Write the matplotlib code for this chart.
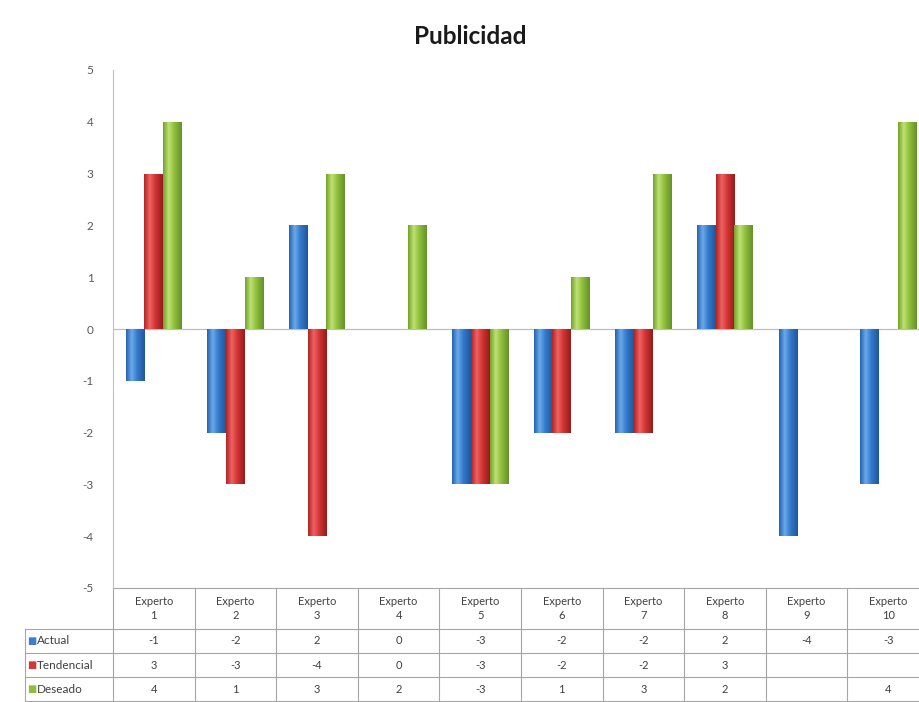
import numpy as np
import matplotlib
matplotlib.use("Agg")
import matplotlib.pyplot as plt
from matplotlib.colors import LinearSegmentedColormap

title = "Publicidad"
expertos = ["Experto\n%d" % i for i in range(1, 11)]
series_names = ["Actual", "Tendencial", "Deseado"]
actual = [-1, -2, 2, 0, -3, -2, -2, 2, -4, -3]
tendencial = [3, -3, -4, 0, -3, -2, -2, 3, None, None]
deseado = [4, 1, 3, 2, -3, 1, 3, 2, None, 4]
y_ticks = list(range(-5, 6))

base_colors = ["#3b7dd0", "#d23a3a", "#8fbe3c"]
# dark edge, highlight, mid, dark edge -> cylinder look
shades = [
    ["#2563b0", "#6aaaea", "#3479cc", "#1f569a"],
    ["#b02424", "#ee6262", "#d23434", "#961c1c"],
    ["#72a22a", "#bfe174", "#8fbe3c", "#64922a"],
]

plt.rcParams['font.family'] = ['Lato', 'DejaVu Sans']
plt.rcParams['axes.unicode_minus'] = False

W, H = 920, 702
fig = plt.figure(figsize=(W / 100, H / 100), dpi=100)
ax = fig.add_axes([113 / W, (H - 588) / H, 816 / W, 518 / H])

n = len(expertos)
x = np.arange(n)
bw = 0.228
all_series = [actual, tendencial, deseado]

grad = np.linspace(0, 1, 64).reshape(1, -1)
for k, vals in enumerate(all_series):
    v = np.array([np.nan if a is None else a for a in vals], dtype=float)
    bars = ax.bar(x + (k - 1) * bw, v, bw, color=base_colors[k], zorder=2, linewidth=0)
    cmap = LinearSegmentedColormap.from_list("c%d" % k,
                                             list(zip([0, 0.3, 0.6, 1], shades[k])))
    for b, val in zip(bars, v):
        if np.isnan(val) or val == 0:
            continue
        x0, y0 = b.get_x(), b.get_y()
        im = ax.imshow(grad, cmap=cmap, aspect='auto', zorder=3,
                       extent=[x0, x0 + b.get_width(), y0, y0 + b.get_height()])
        im.set_clip_path(b)

ax.set_xlim(-0.5, n - 0.5)
ax.set_ylim(-5, 5)
ax.set_yticks(y_ticks)
ax.set_xticks([])
ax.tick_params(axis='y', length=0, labelsize=8.5, labelcolor="#595959", pad=14)
for s in ["top", "right", "bottom"]:
    ax.spines[s].set_visible(False)
ax.spines["left"].set_color("#bfbfbf")
ax.axhline(0, color="#bfbfbf", lw=0.9, zorder=1)

fig.text(470 / W, 1 - 37 / H, title, ha='center', va='center',
         fontsize=17.5, fontweight='bold', color="#1a1a1a")

# data table under the plot
tr = ax.get_xaxis_transform()
lc = "#a6a6a6"
rows_y = [0, -0.079, -0.1255, -0.172, -0.218]
x_left = -1.578
ax.plot([-0.5, n - 0.5], [rows_y[0]] * 2, transform=tr, clip_on=False, color=lc, lw=0.8)
for yy in rows_y[1:]:
    ax.plot([x_left, n - 0.5], [yy, yy], transform=tr, clip_on=False, color=lc, lw=0.8)
ax.plot([x_left, x_left], [rows_y[1], rows_y[-1]], transform=tr, clip_on=False, color=lc, lw=0.8)
for i in range(n + 1):
    ax.plot([i - 0.5, i - 0.5], [rows_y[0], rows_y[-1]], transform=tr,
            clip_on=False, color=lc, lw=0.8)

for i, lab in enumerate(expertos):
    ax.text(i, (rows_y[0] + rows_y[1]) / 2, lab, transform=tr, ha='center',
            va='center', fontsize=8, color="#404040", linespacing=1.35)

for k, (name, vals) in enumerate(zip(series_names, all_series)):
    yc = (rows_y[k + 1] + rows_y[k + 2]) / 2
    ax.text(x_left + 0.03, yc, "\u25a0", transform=tr, ha='left', va='center',
            fontsize=7, color=base_colors[k], family='DejaVu Sans')
    ax.text(x_left + 0.15, yc, name, transform=tr, ha='left', va='center',
            fontsize=8.5, color="#404040")
    for i, val in enumerate(vals):
        if val is None:
            continue
        ax.text(i, yc, str(val), transform=tr, ha='center', va='center',
                fontsize=8, color="#404040")

fig.savefig("out.png", dpi=100)
